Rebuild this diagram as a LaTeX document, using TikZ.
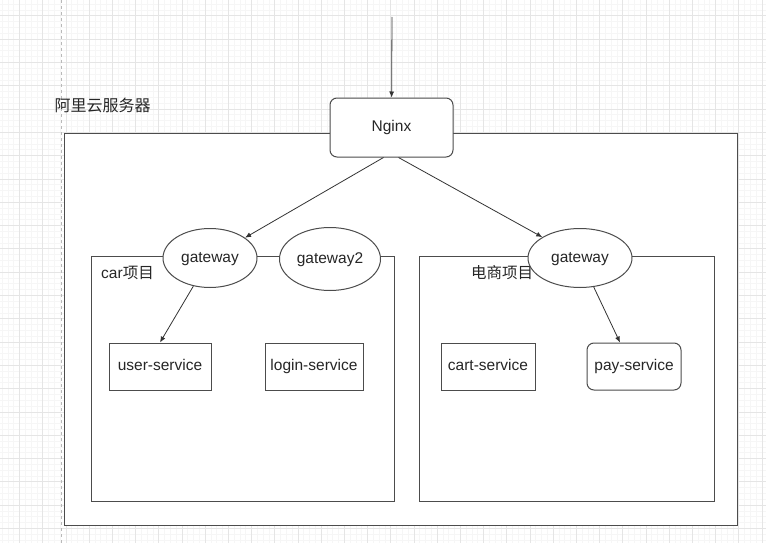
\documentclass[tikz,border=0pt]{standalone}
\usepackage{fontspec}
\setmainfont{Liberation Sans}
\newfontfamily\cjk{Noto Sans CJK SC}
\usetikzlibrary{arrows.meta, shapes.geometric}

\begin{document}
\begin{tikzpicture}[
  x=1pt, y=-1pt,
  font=\fontsize{15.5}{18}\selectfont,
  minorline/.style={draw=gray!7, line width=0.5pt},
  majorline/.style={draw=gray!20, line width=0.6pt},
  frame/.style={draw=black!70, fill=white, line width=1pt},
  svc/.style={draw=black!70, fill=white, line width=1pt, rectangle, minimum height=47pt,
    inner sep=2pt, text=black!85, text height=11.5pt, text depth=3.5pt},
  rsvc/.style={svc, rounded corners=7pt},
  gw/.style={draw=black!70, fill=white, line width=1pt, ellipse, inner sep=0pt, text=black!85,
    text height=11.5pt, text depth=3.5pt},
  lbl/.style={text=black!85, inner sep=0pt},
  arrow/.style={-{Latex[length=6pt,width=5pt]}, draw=black!80, line width=0.8pt}]
  \useasboundingbox (0,0) rectangle (766,543);
  \fill[white] (0,0) rectangle (766,543);
  % background grid
  \foreach \i in {0,...,131}
    \draw[minorline] ({2.1+\i*5.8},0) -- ({2.1+\i*5.8},543);
  \foreach \j in {0,...,93}
    \draw[minorline] (0,{4.05+\j*5.825}) -- (766,{4.05+\j*5.825});
  \foreach \i in {0,...,32}
    \draw[majorline] ({19.5+\i*23.2},0) -- ({19.5+\i*23.2},543);
  \foreach \j in {0,...,22}
    \draw[majorline] (0,{15.7+\j*23.3}) -- (766,{15.7+\j*23.3});
  \draw[gray!55, dashed, line width=0.6pt] (61,0) -- (61,543);
  % server frame
  \node[frame, minimum width=673pt, minimum height=392pt] (aliyun) at (400.5,329) {};
  \node[lbl, font=\fontsize{16}{18}\selectfont] (aliyunlbl) at (102.5,105) {\cjk 阿里云服务器};
  % project frames
  \node[frame, minimum width=303pt, minimum height=245pt] (carbox) at (242.5,378.5) {};
  \node[frame, minimum width=295pt, minimum height=245pt] (shopbox) at (566.5,378.5) {};
  \node[lbl] (carlbl) at (127.5,273) {car{\cjk 项目}};
  \node[lbl] (shoplbl) at (502,273) {\cjk 电商项目};
  % entry and nginx
  \coordinate (entry) at (392,17);
  \node[rsvc, minimum width=123pt, minimum height=59pt] (nginx) at (391.5,127.5) {Nginx};
  \draw[arrow] (entry) -- (nginx);
  % gateways
  \node[gw, minimum width=94pt, minimum height=59pt] (gw1) at (210,258) {gateway};
  \node[gw, minimum width=101pt, minimum height=63pt] (gw2) at (330,259) {gateway2};
  \node[gw, minimum width=104pt, minimum height=59pt] (gw3) at (580,258) {gateway};
  % services
  \node[svc, minimum width=102pt] (usersvc) at (160,366.5) {user-service};
  \node[svc, minimum width=98pt] (loginsvc) at (314,366.5) {login-service};
  \node[svc, minimum width=94pt] (cartsvc) at (488,366.5) {cart-service};
  \node[rsvc, minimum width=94pt] (paysvc) at (634,366.5) {pay-service};
  % routes
  \draw[arrow] ([xshift=-8pt]nginx.south) -- (gw1);
  \draw[arrow] ([xshift=7pt]nginx.south) -- (gw3);
  \draw[arrow] (gw1) -- (usersvc.north);
  \draw[arrow] (gw3) -- ([xshift=-14pt]paysvc.north);
\end{tikzpicture}
\end{document}
